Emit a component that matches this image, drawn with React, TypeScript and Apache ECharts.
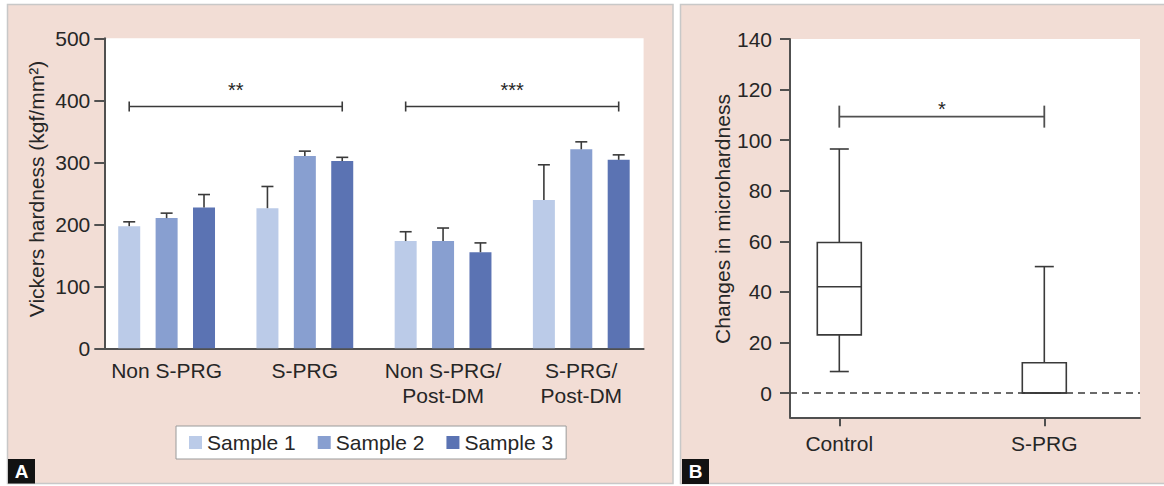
import React, { useEffect, useRef } from 'react';
import * as echarts from 'echarts';

// ---------- Panel A data ----------
const categories = ['Non S-PRG', 'S-PRG', 'Non S-PRG/\nPost-DM', 'S-PRG/\nPost-DM'];
const seriesNames = ['Sample 1', 'Sample 2', 'Sample 3'];
const sample1Mean = [197, 226, 173, 239];
const sample1Err = [7, 35, 15, 57];
const sample2Mean = [210, 310, 173, 321];
const sample2Err = [8, 8, 21, 12];
const sample3Mean = [227, 302, 155, 304];
const sample3Err = [21, 6, 15, 8];
const seriesColors = ['#BBCBE8', '#889FD0', '#5B73B3'];
const sigStartCat = [0, 2];
const sigEndCat = [1, 3];
const sigY = [390, 390];
const sigLabel = ['**', '***'];

// ---------- Panel B data ----------
const boxCategories = ['Control', 'S-PRG'];
const boxMin = [8.5, 0];
const boxQ1 = [23, 0];
const boxMedian = [42, 0];
const boxQ3 = [59.5, 12];
const boxMax = [96.5, 50];
const boxYTicks = [0, 20, 40, 60, 80, 100, 120, 140];
const boxSigY = [109.3];
const boxSigLabel = ['*'];

const FONT = '"Liberation Sans", Arial, Helvetica, sans-serif';
const TEXT = '#262626';
const AXIS = '#505050';
const LINE = '#3a3a3a';
const PINK = '#F2DDD5';
const BAR_W = 22;
const BAR_GAP = 0.7;
const STEP = BAR_W * (1 + BAR_GAP);
const BOX_W = 44;
const CAP_W = 19;

const means = [sample1Mean, sample2Mean, sample3Mean];
const errs = [sample1Err, sample2Err, sample3Err];

export default function App() {
  const ref = useRef<HTMLDivElement>(null);
  useEffect(() => {
    if (!ref.current) return;
    const chart = echarts.init(ref.current, undefined, { renderer: 'svg' });

    const barSeries = seriesNames.map((name, i) => ({
      name,
      type: 'bar',
      xAxisIndex: 1,
      yAxisIndex: 1,
      barWidth: BAR_W,
      barGap: BAR_GAP * 100 + '%',
      itemStyle: { color: seriesColors[i] },
      data: means[i],
      silent: true,
    }));

    const errSeries = seriesNames.map((name, i) => ({
      name: name + ' error',
      type: 'custom',
      xAxisIndex: 1,
      yAxisIndex: 1,
      silent: true,
      z: 5,
      data: means[i].map((m, k) => [k, m, m + errs[i][k]]),
      renderItem: (params: any, api: any) => {
        const b = api.coord([api.value(0), api.value(1)]);
        const t = api.coord([api.value(0), api.value(2)]);
        const x = b[0] + (i - 1) * STEP;
        const st = { stroke: LINE, lineWidth: 1.6 };
        return {
          type: 'group',
          children: [
            { type: 'line', shape: { x1: x, y1: b[1], x2: x, y2: t[1] }, style: st },
            { type: 'line', shape: { x1: x - 6, y1: t[1], x2: x + 6, y2: t[1] }, style: st },
          ],
        };
      },
    }));

    const bracketA = {
      type: 'custom',
      name: 'sigA',
      xAxisIndex: 1,
      yAxisIndex: 1,
      silent: true,
      data: sigY.map((y, k) => [sigStartCat[k], sigEndCat[k], y]),
      renderItem: (params: any, api: any) => {
        const p1 = api.coord([api.value(0), api.value(2)]);
        const p2 = api.coord([api.value(1), api.value(2)]);
        const x1 = p1[0] - STEP;
        const x2 = p2[0] + STEP;
        const y = p1[1];
        const st = { stroke: LINE, lineWidth: 1.6 };
        return {
          type: 'group',
          children: [
            { type: 'line', shape: { x1, y1: y, x2, y2: y }, style: st },
            { type: 'line', shape: { x1, y1: y - 5, x2: x1, y2: y + 5 }, style: st },
            { type: 'line', shape: { x1: x2, y1: y - 5, x2, y2: y + 5 }, style: st },
            {
              type: 'text',
              x: (x1 + x2) / 2,
              y: y - 17,
              style: { text: sigLabel[params.dataIndex], font: `20px ${FONT}`, fill: TEXT, align: 'center', verticalAlign: 'middle' },
            },
          ],
        };
      },
    };

    const boxSeries = {
      type: 'custom',
      name: 'box',
      xAxisIndex: 3,
      yAxisIndex: 3,
      silent: true,
      z: 4,
      data: boxCategories.map((c, k) => [k, boxMin[k], boxQ1[k], boxMedian[k], boxQ3[k], boxMax[k]]),
      renderItem: (params: any, api: any) => {
        const idx = api.value(0);
        const pMin = api.coord([idx, api.value(1)]);
        const pQ1 = api.coord([idx, api.value(2)]);
        const pMed = api.coord([idx, api.value(3)]);
        const pQ3 = api.coord([idx, api.value(4)]);
        const pMax = api.coord([idx, api.value(5)]);
        const x = pMin[0];
        const hw = BOX_W / 2;
        const cw = CAP_W / 2;
        const st = { stroke: LINE, lineWidth: 1.6, fill: 'none' };
        return {
          type: 'group',
          children: [
            { type: 'line', shape: { x1: x, y1: pMax[1], x2: x, y2: pQ3[1] }, style: st },
            { type: 'line', shape: { x1: x - cw, y1: pMax[1], x2: x + cw, y2: pMax[1] }, style: st },
            { type: 'line', shape: { x1: x, y1: pQ1[1], x2: x, y2: pMin[1] }, style: st },
            { type: 'line', shape: { x1: x - cw, y1: pMin[1], x2: x + cw, y2: pMin[1] }, style: st },
            { type: 'rect', shape: { x: x - hw, y: pQ3[1], width: BOX_W, height: pQ1[1] - pQ3[1] }, style: { ...st, fill: 'none' } },
            { type: 'line', shape: { x1: x - hw, y1: pMed[1], x2: x + hw, y2: pMed[1] }, style: st },
          ],
        };
      },
    };

    const bracketB = {
      type: 'custom',
      name: 'sigB',
      xAxisIndex: 3,
      yAxisIndex: 3,
      silent: true,
      data: boxSigY.map((y) => [0, 1, y]),
      renderItem: (params: any, api: any) => {
        const p1 = api.coord([api.value(0), api.value(2)]);
        const p2 = api.coord([api.value(1), api.value(2)]);
        const x1 = p1[0];
        const x2 = p2[0];
        const y = p1[1];
        const st = { stroke: AXIS, lineWidth: 1.8 };
        return {
          type: 'group',
          children: [
            { type: 'line', shape: { x1, y1: y, x2, y2: y }, style: st },
            { type: 'line', shape: { x1, y1: y - 11, x2: x1, y2: y + 11 }, style: st },
            { type: 'line', shape: { x1: x2, y1: y - 11, x2, y2: y + 11 }, style: st },
            {
              type: 'text',
              x: (x1 + x2) / 2,
              y: y - 8,
              style: { text: boxSigLabel[params.dataIndex], font: `20px ${FONT}`, fill: TEXT, align: 'center', verticalAlign: 'middle' },
            },
          ],
        };
      },
    };

    const zeroLine = {
      type: 'line',
      name: 'zero',
      xAxisIndex: 2,
      yAxisIndex: 2,
      data: [[0, 0]],
      showSymbol: false,
      symbol: 'none',
      lineStyle: { width: 0 },
      silent: true,
      markLine: {
        silent: true,
        symbol: 'none',
        label: { show: false },
        lineStyle: { type: [7, 5], color: LINE, width: 1.5 },
        data: [{ yAxis: 0 }],
      },
    };

    const axisLineStyle = { color: AXIS, width: 2 };
    const labelStyle = { fontSize: 21, color: TEXT, fontFamily: FONT };

    const option: any = {
      animation: false,
      backgroundColor: '#ffffff',
      textStyle: { fontFamily: FONT },
      legend: {
        data: seriesNames,
        left: 176,
        top: 426,
        icon: 'rect',
        itemWidth: 13,
        itemHeight: 13,
        itemGap: 22,
        padding: [6, 13],
        backgroundColor: '#ffffff',
        borderColor: '#9a9a9a',
        borderWidth: 1,
        textStyle: { fontSize: 21, color: TEXT, fontFamily: FONT },
        selectedMode: false,
      },
      grid: [
        { left: 104.3, right: 520.4, top: 38.3, bottom: 137.7, show: true, backgroundColor: '#ffffff', borderWidth: 0 },
        { left: 97.5, right: 513.6, top: 38.3, bottom: 137.7 },
        { left: 790, right: 24, top: 39, bottom: 68.7, show: true, backgroundColor: '#ffffff', borderWidth: 0 },
        { left: 736.8, right: 17.2, top: 39, bottom: 68.7 },
      ],
      xAxis: [
        {
          gridIndex: 0, type: 'value', min: 0, max: 1,
          axisLine: { show: true, onZero: false, lineStyle: axisLineStyle },
          axisTick: { show: false }, axisLabel: { show: false }, splitLine: { show: false },
        },
        {
          gridIndex: 1, type: 'category', data: categories,
          axisLine: { show: false, onZero: false }, axisTick: { show: false },
          axisLabel: { ...labelStyle, margin: 10, lineHeight: 25, interval: 0 },
        },
        {
          gridIndex: 2, type: 'value', min: 0, max: 1,
          axisLine: { show: true, onZero: false, lineStyle: axisLineStyle },
          axisTick: { show: false }, axisLabel: { show: false }, splitLine: { show: false },
        },
        {
          gridIndex: 3, type: 'category', data: boxCategories,
          axisLine: { show: false, onZero: false },
          axisTick: { show: true, alignWithLabel: true, length: 9, lineStyle: axisLineStyle },
          axisLabel: { ...labelStyle, margin: 16 },
        },
      ],
      yAxis: [
        {
          gridIndex: 0, type: 'value', min: 0, max: 500, interval: 100,
          axisLine: { show: true, onZero: false, lineStyle: axisLineStyle },
          axisTick: { show: true, length: 10, lineStyle: axisLineStyle },
          axisLabel: { ...labelStyle, margin: 14 },
          splitLine: { show: false },
        },
        { gridIndex: 1, type: 'value', min: 0, max: 500, show: false, splitLine: { show: false } },
        {
          gridIndex: 2, type: 'value', min: -9.6, max: 140,
          axisLine: { show: true, onZero: false, lineStyle: axisLineStyle },
          axisTick: { show: true, length: 10, lineStyle: axisLineStyle, customValues: boxYTicks },
          axisLabel: { ...labelStyle, margin: 18, customValues: boxYTicks },
          splitLine: { show: false },
        },
        { gridIndex: 3, type: 'value', min: -9.6, max: 140, show: false, splitLine: { show: false } },
      ],
      graphic: [
        { type: 'rect', z: -10, silent: true, shape: { x: 7.5, y: 4.5, width: 665.5, height: 479 }, style: { fill: PINK, stroke: '#c8c8c8', lineWidth: 1.5 } },
        { type: 'rect', z: -10, silent: true, shape: { x: 680.5, y: 4.5, width: 500, height: 479 }, style: { fill: PINK, stroke: '#c8c8c8', lineWidth: 1.5 } },
        { type: 'rect', z: 100, silent: true, shape: { x: 8, y: 459, width: 27, height: 24.5 }, style: { fill: '#121212' } },
        { type: 'text', z: 101, silent: true, x: 21.5, y: 471.5, style: { text: 'A', font: `bold 19px ${FONT}`, fill: '#ffffff', align: 'center', verticalAlign: 'middle' } },
        { type: 'rect', z: 100, silent: true, shape: { x: 682, y: 459, width: 27, height: 25 }, style: { fill: '#121212' } },
        { type: 'text', z: 101, silent: true, x: 695.5, y: 471.5, style: { text: 'B', font: `bold 19px ${FONT}`, fill: '#ffffff', align: 'center', verticalAlign: 'middle' } },
        { type: 'text', z: 101, silent: true, x: 36, y: 189, rotation: Math.PI / 2, style: { text: 'Vickers hardness (kgf/mm²)', font: `21px ${FONT}`, fill: TEXT, align: 'center', verticalAlign: 'middle' } },
        { type: 'text', z: 101, silent: true, x: 722.5, y: 219, rotation: Math.PI / 2, style: { text: 'Changes in microhardness', font: `21px ${FONT}`, fill: TEXT, align: 'center', verticalAlign: 'middle' } },
      ],
      series: [...barSeries, ...errSeries, bracketA, zeroLine, boxSeries, bracketB],
    };
    chart.setOption(option);
    return () => chart.dispose();
  }, []);
  return <div ref={ref} style={{ position: 'absolute', left: 0, top: 0, width: 1164, height: 486 }} />;
}
